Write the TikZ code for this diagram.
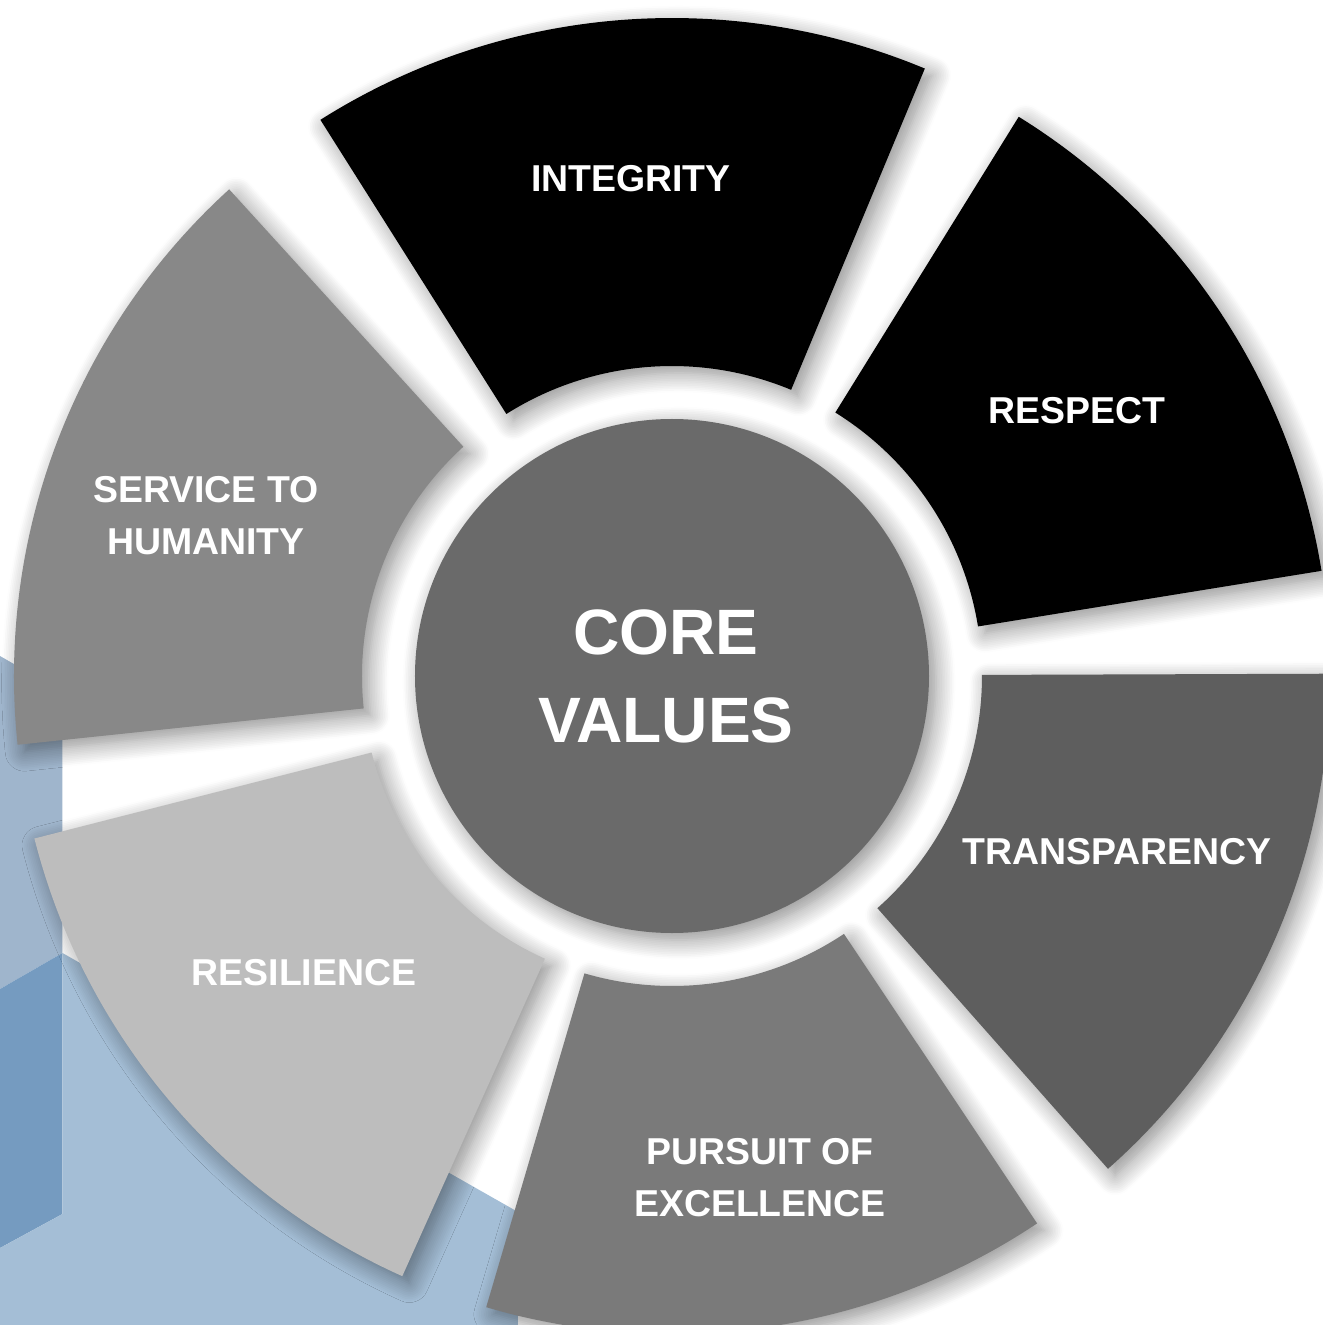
\documentclass[tikz,border=0pt]{standalone}
\usepackage{fontspec}
\setmainfont{Liberation Sans}
\usetikzlibrary{shadows.blur}

\definecolor{bluestrip}{HTML}{9FB5CC}
\definecolor{bluedark}{HTML}{759BC0}
\definecolor{bluelight}{HTML}{A4BED6}
\definecolor{centregray}{HTML}{6A6A6A}
\definecolor{transgray}{HTML}{5E5E5E}
\definecolor{pursuitgray}{HTML}{7A7A7A}
\definecolor{resilgray}{HTML}{BDBDBD}
\definecolor{servicegray}{HTML}{888888}

\begin{document}
\begin{tikzpicture}[x=0.2mm,y=0.2mm,
  softshadow/.style={blur shadow={shadow xshift=4pt,shadow yshift=-4pt,shadow blur radius=11pt,shadow blur steps=12,shadow opacity=45}},
  valuetext/.style={text=white,font=\bfseries\fontsize{21.3}{30}\selectfont,align=center},
  coretext/.style={text=white,font=\bfseries\fontsize{36.5}{50}\selectfont,align=center}]
\tikzstyle{every node}+=[inner sep=0pt]
\useasboundingbox (-672,-649) rectangle (650,676);
% background blocks
\fill [bluestrip] (-672,20) -- (-609.5,-16) -- (-609.5,-277) -- (-672,-313) -- cycle;
\fill [bluedark] (-672,-313) -- (-609.5,-277) -- (-609.5,-538) -- (-672,-572) -- cycle;
\fill [bluelight] (-672,-572) -- (-609.5,-538) -- (-609.5,-277) -- (-154,-536) -- (-154,-649) -- (-672,-649) -- cycle;
% centre
\fill [centregray, softshadow] (0,0) circle (257);
\node [coretext] (core) at (-6,0) {CORE\\VALUES};
% segments
\fill [black, softshadow] (67.4:310) arc [start angle=67.4, end angle=122.3, radius=310] -- (122.3:658) arc [start angle=122.3, end angle=67.4, radius=658] -- cycle;
\node [valuetext] (integrity) at (-41,497) {INTEGRITY};
\fill [black, softshadow] (9.2:310) arc [start angle=9.2, end angle=58.2, radius=310] -- (58.2:658) arc [start angle=58.2, end angle=9.2, radius=658] -- cycle;
\node [valuetext] (respect) at (405,265) {RESPECT};
\fill [transgray, softshadow] (-48.5:310) arc [start angle=-48.5, end angle=0.2, radius=310] -- (0.2:658) arc [start angle=0.2, end angle=-48.5, radius=658] -- cycle;
\node [valuetext] (transparency) at (445,-176) {TRANSPARENCY};
\fill [pursuitgray, softshadow] (-106.4:310) arc [start angle=-106.4, end angle=-56.3, radius=310] -- (-56.3:658) arc [start angle=-56.3, end angle=-106.4, radius=658] -- cycle;
\node [valuetext] (pursuit) at (88,-501.5) {PURSUIT OF\\EXCELLENCE};
\fill [resilgray, softshadow] (-165.7:310) arc [start angle=-165.7, end angle=-114.2, radius=310] -- (-114.2:658) arc [start angle=-114.2, end angle=-165.7, radius=658] -- cycle;
\node [valuetext] (resilience) at (-368,-297) {RESILIENCE};
\fill [servicegray, softshadow] (132.3:310) arc [start angle=132.3, end angle=186, radius=310] -- (186:658) arc [start angle=186, end angle=132.3, radius=658] -- cycle;
\node [valuetext] (service) at (-466,160.5) {SERVICE TO\\HUMANITY};
\end{tikzpicture}
\end{document}
